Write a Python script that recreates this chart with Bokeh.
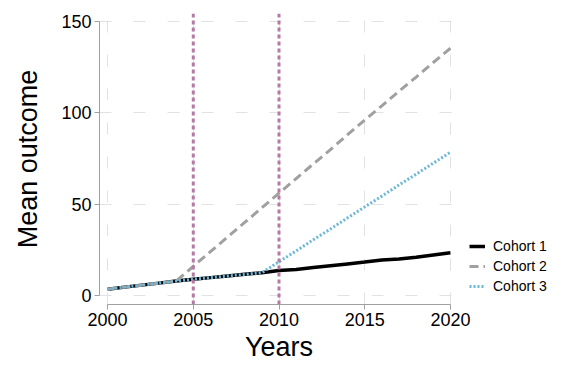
from bokeh.plotting import figure
from bokeh.models import (Range1d, FixedTicker, Legend, LegendItem, Span)
from bokeh.embed import file_html
from bokeh.resources import INLINE

years = list(range(2000, 2021))
cohort1 = [3.5, 4.6, 5.7, 6.8, 7.9, 8.9, 9.8, 10.7, 11.6, 12.5, 13.7,
           14.3, 15.3, 16.3, 17.3, 18.3, 19.4, 20.0, 21.0, 22.2, 23.4]
cohort2 = [3.5, 4.6, 5.7, 6.8, 7.9, 16.0, 24.0, 32.0, 40.0, 48.0, 56.0,
           64.0, 72.0, 79.8, 88.0, 96.0, 103.8, 111.8, 119.5, 127.5, 135.3]
cohort3 = [3.5, 4.6, 5.7, 6.8, 7.9, 8.9, 9.8, 10.7, 11.6, 12.5, 18.5,
           24.4, 30.5, 36.4, 42.5, 48.5, 54.4, 60.5, 66.4, 72.4, 78.4]
series_names = ["Cohort 1", "Cohort 2", "Cohort 3"]
event_years = [2005, 2010]
x_ticks = [2000, 2005, 2010, 2015, 2020]
y_ticks = [0, 50, 100, 150]

FONT = "Liberation Sans"

p = figure(frame_width=359, frame_height=291, output_backend="svg",
           toolbar_location=None,
           x_range=Range1d(1999.53, 2020.47), y_range=Range1d(-4.9, 154.3),
           min_border_left=99, min_border_right=110, min_border_top=13,
           min_border_bottom=70)
p.outline_line_color = None
p.background_fill_color = "white"
p.border_fill_color = "white"

for ax in (p.xaxis[0], p.yaxis[0]):
    ax.axis_line_color = "#a0a0a0"
    ax.major_tick_line_color = "#a0a0a0"
    ax.major_tick_out = 5
    ax.major_tick_in = 0
    ax.minor_tick_line_color = None
    ax.major_label_text_font = FONT
    ax.major_label_text_font_size = "18px"
    ax.major_label_text_color = "black"
    ax.major_label_standoff = 3
    ax.axis_label_text_font = FONT
    ax.axis_label_text_font_size = "27px"
    ax.axis_label_text_font_style = "normal"
    ax.axis_label_text_color = "black"

p.xaxis[0].ticker = FixedTicker(ticks=x_ticks)
p.yaxis[0].ticker = FixedTicker(ticks=y_ticks)
p.xaxis[0].bounds = (x_ticks[0], x_ticks[-1])
p.yaxis[0].bounds = (y_ticks[0], y_ticks[-1])
p.xaxis[0].axis_label = "Years"
p.yaxis[0].axis_label = "Mean outcome"
p.xaxis[0].axis_label_standoff = 3
p.yaxis[0].axis_label_standoff = 15

for g in (p.xgrid[0], p.ygrid[0]):
    g.grid_line_color = "#e2e2e2"
    g.grid_line_dash = "12 22"
    g.grid_line_width = 1
p.xgrid[0].ticker = FixedTicker(ticks=x_ticks)
p.ygrid[0].ticker = FixedTicker(ticks=y_ticks)

for yr in event_years:
    p.add_layout(Span(location=yr, dimension="height", line_color="#b57aa3",
                      line_width=3, line_dash="4 3"))

r1 = p.line(years, cohort1, line_color="black", line_width=3.5)
r2 = p.line(years, cohort2, line_color="#a0a0a0", line_width=3, line_dash="9 5")
r3 = p.line(years, cohort3, line_color="#6cb8d8", line_width=3, line_dash="2 2")

legend = Legend(items=[LegendItem(label=series_names[0], renderers=[r1]),
                       LegendItem(label=series_names[1], renderers=[r2]),
                       LegendItem(label=series_names[2], renderers=[r3])],
                location=(11, 8), border_line_color=None,
                background_fill_alpha=0, margin=0, padding=0, spacing=0,
                glyph_width=16, glyph_height=20, label_height=20,
                label_standoff=8, label_text_font=FONT,
                label_text_color="black",
                label_text_font_size="14px")
p.add_layout(legend, "right")

open("out.html", "w").write(file_html(p, INLINE))
